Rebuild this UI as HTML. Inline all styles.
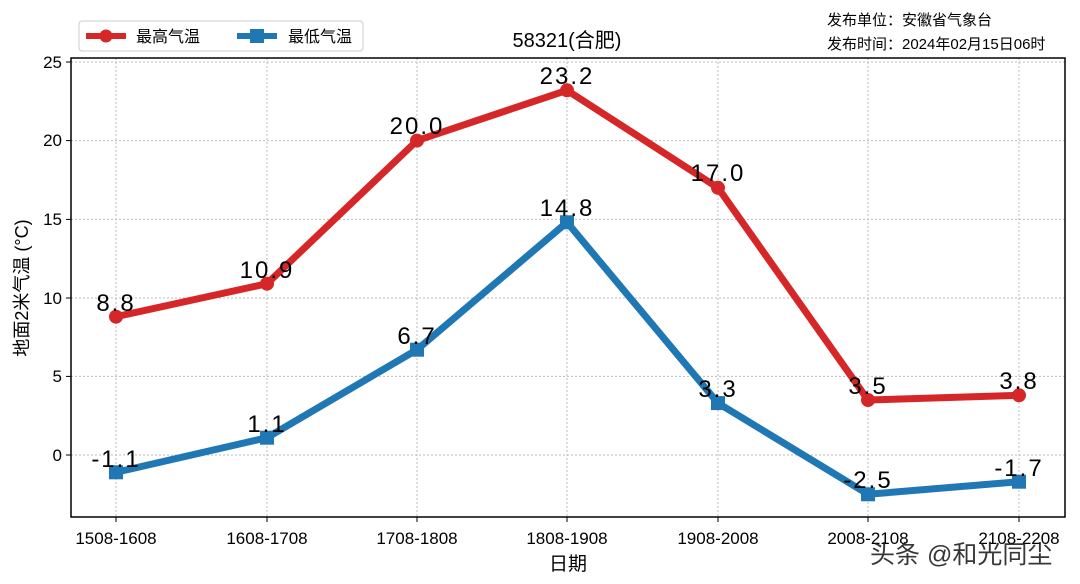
<!DOCTYPE html>
<html><head><meta charset="utf-8"><style>
body{margin:0;background:#fff;}
svg{display:block;font-family:"Liberation Sans","WenQuanYi Zen Hei",sans-serif;}
</style></head><body>
<svg width="1080" height="584" viewBox="0 0 1080 584">
<rect width="1080" height="584" fill="#fff"/>
<g stroke="#bbb" stroke-width="1" stroke-dasharray="2,2">
<line x1="116" y1="58" x2="116" y2="517"/><line x1="267" y1="58" x2="267" y2="517"/>
<line x1="417" y1="58" x2="417" y2="517"/><line x1="567" y1="58" x2="567" y2="517"/>
<line x1="718" y1="58" x2="718" y2="517"/><line x1="868" y1="58" x2="868" y2="517"/>
<line x1="1019" y1="58" x2="1019" y2="517"/>
<line x1="71" y1="62" x2="1065" y2="62"/><line x1="71" y1="140.6" x2="1065" y2="140.6"/>
<line x1="71" y1="219.4" x2="1065" y2="219.4"/><line x1="71" y1="298" x2="1065" y2="298"/>
<line x1="71" y1="376.4" x2="1065" y2="376.4"/><line x1="71" y1="455" x2="1065" y2="455"/>
</g>
<rect x="71" y="58" width="994" height="459" fill="none" stroke="#000" stroke-width="1.5"/>
<g stroke="#000" stroke-width="1">
<line x1="66" y1="62" x2="71" y2="62"/><line x1="66" y1="140.6" x2="71" y2="140.6"/><line x1="66" y1="219.4" x2="71" y2="219.4"/><line x1="66" y1="298" x2="71" y2="298"/><line x1="66" y1="376.4" x2="71" y2="376.4"/><line x1="66" y1="455" x2="71" y2="455"/>
<line x1="116" y1="517" x2="116" y2="522"/><line x1="267" y1="517" x2="267" y2="522"/><line x1="417" y1="517" x2="417" y2="522"/><line x1="567" y1="517" x2="567" y2="522"/><line x1="718" y1="517" x2="718" y2="522"/><line x1="868" y1="517" x2="868" y2="522"/><line x1="1019" y1="517" x2="1019" y2="522"/>
</g>
<g font-size="17" text-anchor="end" fill="#000">
<text x="62" y="68">25</text><text x="62" y="146">20</text><text x="62" y="225">15</text><text x="62" y="304">10</text><text x="62" y="382">5</text><text x="62" y="461">0</text>
</g>
<g font-size="17" text-anchor="middle" fill="#000">
<text x="116" y="544">1508-1608</text><text x="267" y="544">1608-1708</text><text x="417" y="544">1708-1808</text><text x="567" y="544">1808-1908</text><text x="718" y="544">1908-2008</text><text x="868" y="544">2008-2108</text><text x="1019" y="544">2108-2208</text>
<text x="568" y="570" font-size="19">日期</text>
<text x="567" y="47" font-size="20">58321(合肥)</text>
</g>
<text transform="translate(28,288) rotate(-90)" font-size="18" text-anchor="middle">地面2米气温 (°C)</text>
<text x="827" y="25" font-size="15">发布单位：安徽省气象台</text>
<text x="827" y="49" font-size="15">发布时间：2024年02月15日06时</text>
<rect x="79" y="21" width="284" height="30" rx="3" fill="#fff" stroke="#ccc"/>
<line x1="86" y1="36" x2="126" y2="36" stroke="#d62728" stroke-width="6"/><circle cx="106" cy="36" r="6.5" fill="#d62728"/>
<text x="136" y="42" font-size="16">最高气温</text>
<line x1="237" y1="36" x2="277" y2="36" stroke="#1f77b4" stroke-width="6"/><rect x="250" y="29" width="14" height="14" fill="#1f77b4"/>
<text x="288" y="42" font-size="16">最低气温</text>
<polyline fill="none" stroke="#d62728" stroke-width="7" stroke-linejoin="round" points="116,316.7 267,283.7 417,140.6 567,90.3 718,187.8 868,400 1019,395.3"/>
<g fill="#d62728">
<circle cx="116" cy="316.7" r="7"/><circle cx="267" cy="283.7" r="7"/><circle cx="417" cy="140.6" r="7"/><circle cx="567" cy="90.3" r="7"/><circle cx="718" cy="187.8" r="7"/><circle cx="868" cy="400" r="7"/><circle cx="1019" cy="395.3" r="7"/>
</g>
<polyline fill="none" stroke="#1f77b4" stroke-width="7" stroke-linejoin="round" points="116,472.3 267,437.7 417,349.7 567,222.3 718,403.1 868,494.3 1019,481.7"/>
<g fill="#1f77b4">
<rect x="109" y="465.3" width="14" height="14"/><rect x="260" y="430.7" width="14" height="14"/><rect x="410" y="342.7" width="14" height="14"/><rect x="560" y="215.3" width="14" height="14"/><rect x="711" y="396.1" width="14" height="14"/><rect x="861" y="487.3" width="14" height="14"/><rect x="1012" y="474.7" width="14" height="14"/>
</g>
<g font-size="24" text-anchor="middle" fill="#000" letter-spacing="2">
<text x="116" y="311">8.8</text><text x="267" y="278">10.9</text><text x="417" y="134">20.0</text><text x="567" y="84">23.2</text><text x="718" y="181">17.0</text><text x="868" y="394">3.5</text><text x="1019" y="389">3.8</text>
<text x="116" y="467">-1.1</text><text x="267" y="432">1.1</text><text x="417" y="344">6.7</text><text x="567" y="216">14.8</text><text x="718" y="397">3.3</text><text x="868" y="488">-2.5</text><text x="1019" y="476">-1.7</text>
</g>
<text x="870" y="563" font-size="25" fill="#222" opacity="0.9">头条 @和光同尘</text>
</svg>
</body></html>
